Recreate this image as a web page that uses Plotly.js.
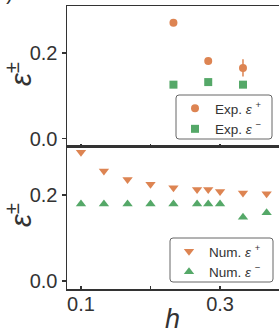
<!DOCTYPE html>
<html><head><meta charset="utf-8">
<script src="https://cdn.plot.ly/plotly-3.0.1.min.js"></script>
<style>html,body{margin:0;padding:0;overflow:hidden;width:279px;height:333px;background:#fff}</style>
</head><body><div id="plot"></div>
<script>
// Experimental data (top panel)
const hExp = [0.233, 0.283, 0.333];
const expPlus = [0.270, 0.181, 0.165];
const expPlusErr = [0.004, 0.005, 0.020];
const expMinus = [0.126, 0.132, 0.126];
const expMinusErr = [0.004, 0.006, 0.004];
// Numerical data (bottom panel)
const hNum = [0.1, 0.133, 0.167, 0.2, 0.233, 0.267, 0.283, 0.3, 0.333, 0.367];
const numPlus = [0.300, 0.256, 0.236, 0.225, 0.217, 0.213, 0.213, 0.208, 0.205, 0.203];
const numMinus = [0.179, 0.179, 0.179, 0.179, 0.179, 0.179, 0.179, 0.179, 0.148, 0.159];
const yTickVals = [0.0, 0.2];
const yTickText = ["0.0", "0.2"];
const xTickVals = [0.1, 0.2, 0.3];
const xTickText = ["0.1", "", "0.3"];

const ORANGE = "#DD8452", GREEN = "#55A868", INK = "#333333";
const FONT = "Liberation Sans, Arial, sans-serif";

const traces = [
  {x: hExp, y: expPlus, type: "scatter", mode: "markers", name: "Exp. <i>ε</i> <sup>+</sup>",
   marker: {symbol: "circle", size: 8, color: ORANGE},
   error_y: {type: "data", array: expPlusErr, color: ORANGE, thickness: 1.5, width: 0},
   xaxis: "x", yaxis: "y", legend: "legend"},
  {x: hExp, y: expMinus, type: "scatter", mode: "markers", name: "Exp. <i>ε</i> <sup>−</sup>",
   marker: {symbol: "square", size: 8, color: GREEN},
   error_y: {type: "data", array: expMinusErr, color: GREEN, thickness: 1.5, width: 0},
   xaxis: "x", yaxis: "y", legend: "legend"},
  {x: hNum, y: numPlus, type: "scatter", mode: "markers", name: "Num. <i>ε</i> <sup>+</sup>",
   marker: {symbol: "triangle-down", size: 9, color: ORANGE},
   xaxis: "x2", yaxis: "y2", legend: "legend2", cliponaxis: false},
  {x: hNum, y: numMinus, type: "scatter", mode: "markers", name: "Num. <i>ε</i> <sup>−</sup>",
   marker: {symbol: "triangle-up", size: 9, color: GREEN},
   xaxis: "x2", yaxis: "y2", legend: "legend2"}
];

const xRange = [0.0799, 0.415];
const common = {showgrid: false, zeroline: false, showline: true, linecolor: INK, linewidth: 1.5,
  mirror: true, tickcolor: INK, tickwidth: 1.3, tickfont: {family: FONT, size: 20, color: INK}};
const split = 0.5018;
const legendCommon = {bgcolor: "rgba(0,0,0,0)", borderwidth: 0,
  font: {family: FONT, size: 13.5, color: INK}, xanchor: "left", yanchor: "top",
  itemwidth: 30, tracegroupgap: 0};

// pixel -> paper helpers (plot area: x 67..300, y 6..289)
const px = p => (p - 67) / 233;
const py = p => (289 - p) / 283;
function roundBox(x0, y0, x1, y1, r) {
  const X = px, Y = py;
  return "M" + X(x0 + r) + "," + Y(y0) + " L" + X(x1 - r) + "," + Y(y0) +
    " Q" + X(x1) + "," + Y(y0) + " " + X(x1) + "," + Y(y0 + r) +
    " L" + X(x1) + "," + Y(y1 - r) +
    " Q" + X(x1) + "," + Y(y1) + " " + X(x1 - r) + "," + Y(y1) +
    " L" + X(x0 + r) + "," + Y(y1) +
    " Q" + X(x0) + "," + Y(y1) + " " + X(x0) + "," + Y(y1 - r) +
    " L" + X(x0) + "," + Y(y0 + r) +
    " Q" + X(x0) + "," + Y(y0) + " " + X(x0 + r) + "," + Y(y0) + " Z";
}
const yTitle = "<i>ε</i><sup>±</sup>";

const layout = {
  width: 300, height: 333,
  margin: {l: 67, r: 0, t: 6, b: 44},
  paper_bgcolor: "#ffffff", plot_bgcolor: "#ffffff",
  font: {family: FONT, color: INK},
  xaxis: Object.assign({}, common, {domain: [0, 1], range: xRange, anchor: "y",
    tickvals: xTickVals, ticktext: ["", "", ""], ticks: "inside", ticklen: 3}),
  yaxis: Object.assign({}, common, {domain: [split, 1], range: [-0.019, 0.309], anchor: "x",
    tickvals: yTickVals, ticktext: yTickText, ticks: "outside", ticklen: 4}),
  xaxis2: Object.assign({}, common, {domain: [0, 1], range: xRange, anchor: "y2",
    tickvals: xTickVals, ticktext: xTickText, ticks: "inside", ticklen: 3, ticklabelstandoff: -4}),
  yaxis2: Object.assign({}, common, {domain: [0, split], range: [-0.019, 0.312], anchor: "x2",
    tickvals: yTickVals, ticktext: yTickText, ticks: "outside", ticklen: 4}),
  legend: Object.assign({}, legendCommon, {x: px(175), y: py(93)}),
  legend2: Object.assign({}, legendCommon, {x: px(169), y: py(236)}),
  shapes: [
    {type: "path", xref: "paper", yref: "paper", layer: "above", path: roundBox(176, 95, 272, 139, 3),
     fillcolor: "rgba(255,255,255,0.85)", line: {color: "#666666", width: 1}},
    {type: "path", xref: "paper", yref: "paper", layer: "above", path: roundBox(170, 238, 273, 282, 3),
     fillcolor: "rgba(255,255,255,0.85)", line: {color: "#666666", width: 1}}
  ],
  annotations: [
    {text: yTitle, xref: "paper", yref: "paper", x: px(19), y: py(74), textangle: -90,
     xanchor: "center", yanchor: "middle", showarrow: false,
     font: {family: FONT, size: 29, color: INK}},
    {text: yTitle, xref: "paper", yref: "paper", x: px(19), y: py(215), textangle: -90,
     xanchor: "center", yanchor: "middle", showarrow: false,
     font: {family: FONT, size: 29, color: INK}},
    {text: "<i>h</i>", xref: "paper", yref: "paper", x: px(172), y: py(319),
     xanchor: "center", yanchor: "middle", showarrow: false,
     font: {family: FONT, size: 27, color: INK}},
    {text: ")", xref: "paper", yref: "paper", x: px(9), y: 1.0, xanchor: "center", yanchor: "bottom",
     showarrow: false, font: {family: FONT, size: 22, color: INK}}
  ],
  showlegend: true
};

Plotly.newPlot("plot", traces, layout, {displayModeBar: false, staticPlot: true});
</script></body></html>
